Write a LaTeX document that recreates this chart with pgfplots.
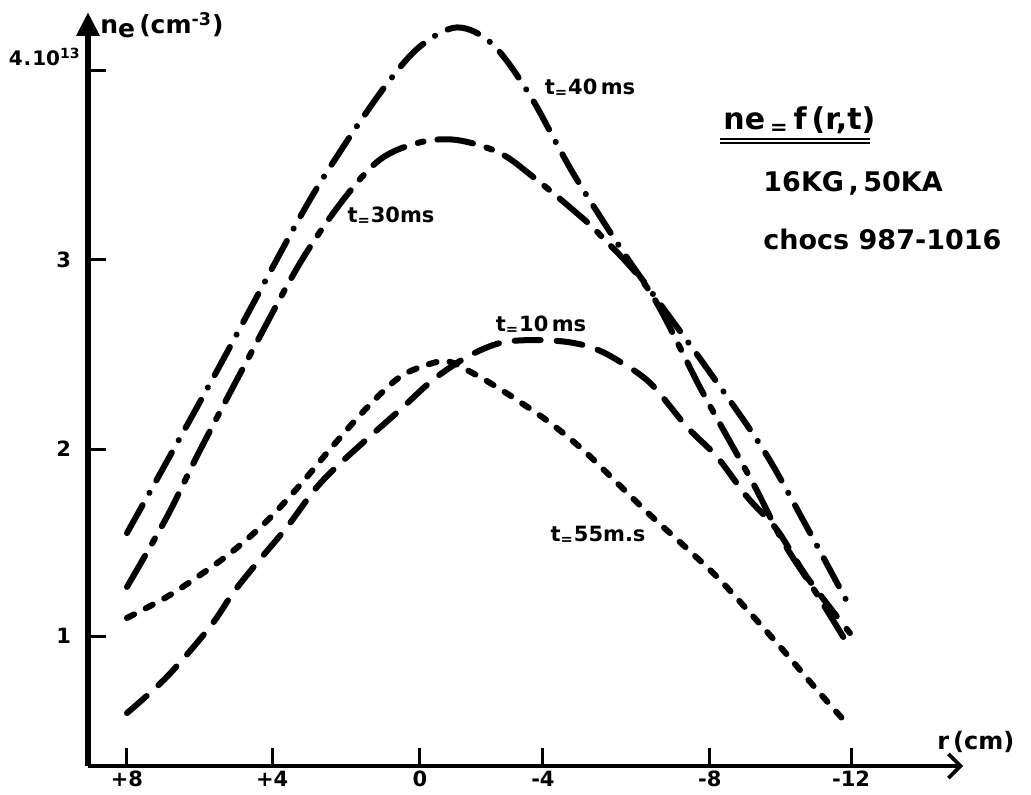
\documentclass[border=0pt]{standalone}
\usepackage{fontspec}
\setmainfont{DejaVu Sans}
\usepackage{pgfplots}
\pgfplotsset{compat=1.18}
\usetikzlibrary{arrows.meta}
\begin{document}
\begin{tikzpicture}[x=1pt,y=1pt]
\path[use as bounding box] (-44,-14.5) rectangle (471.5,383);
\begin{axis}[at={(0,0)}, anchor=south west, scale only axis,
  width=437.5pt, height=377pt,
  xmin=-9.077, xmax=15.094, ymin=0.308, ymax=4.312,
  axis lines=left, clip=false,
  x axis line style={line width=1.8pt, -{Straight Barb[length=6pt,width=12pt,line width=1.8pt]}},
  y axis line style={line width=3.4pt, -{Triangle[length=12pt,width=11pt]}},
  xtick={-8,-3.99,0.09,3.49,8.1,12},
  xticklabels={+8,+4,0,-4,-8,-12},
  ytick={0.998,1.991,2.995,4.0},
  yticklabels={1,2,3,{}},
  major tick length=9pt, tick align=inside,
  tick style={line width=1.5pt, black},
  /pgf/number format/assume math mode=true,
  tick label style={font=\bfseries\fontsize{10.5}{11}\selectfont},
  xticklabel style={yshift=1pt},
  yticklabel style={xshift=-5pt},
]
% t = 40 ms
\addplot[line width=3pt, line cap=round, smooth, tension=0.55,
  dash pattern=on 16pt off 7pt on 0.1pt off 7pt] coordinates {
  (-8,1.545) (-5.62,2.369) (-3.22,3.223) (-2.03,3.595) (-0.82,3.93)
  (0.1,4.13) (1.12,4.23) (2.1,4.14) (3.13,3.87) (4.32,3.457)
  (5.76,3.022) (6.81,2.74) (8.02,2.42) (9.57,1.99) (10.78,1.577) (11.97,1.152)};
% t = 30 ms
\addplot[line width=3pt, line cap=round, smooth, tension=0.55,
  dash pattern=on 18pt off 7pt on 3pt off 7pt] coordinates {
  (-8,1.259) (-6.90,1.630) (-5.98,1.986) (-4.60,2.491) (-3.22,2.979)
  (-2.03,3.314) (-1.0,3.53) (0.1,3.62) (1.12,3.632)
  (2.30,3.563) (3.22,3.436) (4.32,3.261) (5.07,3.128)
  (6.45,2.825) (7.91,2.289) (9.29,1.811) (10.12,1.50) (11.06,1.22) (11.97,0.935)};
% t = 10 ms
\addplot[line width=3pt, line cap=round, smooth, tension=0.55,
  dash pattern=on 13pt off 8pt] coordinates {
  (-8,0.589) (-6.90,0.781) (-5.71,1.046)
  (-5.07,1.227) (-4.41,1.386) (-3.58,1.577) (-2.75,1.790) (-1.92,1.949)
  (-0.46,2.199) (0.45,2.358) (1.39,2.480) (2.30,2.554) (3.22,2.570)
  (4.15,2.560) (4.87,2.528) (5.54,2.464) (6.45,2.342) (7.47,2.108)
  (8.30,1.949) (9.13,1.737) (9.96,1.561) (10.78,1.312) (11.97,1.014)};
% t = 55 ms
\addplot[line width=3pt, line cap=round, smooth, tension=0.55,
  dash pattern=on 4pt off 6.5pt] coordinates {
  (-8,1.094) (-6.90,1.206) (-5.98,1.322) (-5.07,1.450)
  (-4.13,1.610) (-3.22,1.800) (-2.39,1.990) (-1.43,2.199) (-0.46,2.374)
  (0.45,2.448) (0.92,2.454) (1.39,2.411) (2.03,2.342) (2.77,2.252)
  (3.69,2.130) (4.60,1.986) (5.54,1.811) (6.45,1.641) (7.36,1.482)
  (8.30,1.312) (9.21,1.121) (10.12,0.924) (11.06,0.712) (11.97,0.515)};
\end{axis}
\bfseries
\node[anchor=west, font=\bfseries\fontsize{12.5}{14}\selectfont, inner sep=0pt] at (6,370.5)
  {n\raisebox{-0.25ex}{e}\,(cm\textsuperscript{-3})};
\node[anchor=base east, font=\bfseries\fontsize{10}{12}\selectfont, inner sep=0pt] at (-3.5,350)
  {4\kern0.5pt.\kern0.5pt10\textsuperscript{13}};
\node[anchor=base west, font=\bfseries\fontsize{12}{14}\selectfont, inner sep=0pt] at (424.5,8)
  {r\,(cm)};
\node[font=\bfseries\fontsize{10.5}{12}\selectfont, inner sep=0pt] at (251,339)
  {t\textsubscript{=}40\,ms};
\node[font=\bfseries\fontsize{10.5}{12}\selectfont, inner sep=0pt] at (151.5,275)
  {t\textsubscript{=}30ms};
\node[font=\bfseries\fontsize{10.5}{12}\selectfont, inner sep=0pt] at (226.5,220.5)
  {t\textsubscript{=}10\,ms};
\node[font=\bfseries\fontsize{10.5}{12}\selectfont, inner sep=0pt] at (255,115.5)
  {t\textsubscript{=}55m.s};
\node[anchor=base west, font=\bfseries\fontsize{15}{17}\selectfont, inner sep=0pt] at (317.5,318)
  {ne\,\textsubscript{=}\,f\,(r,t)};
\draw[line width=1pt] (316,313.5) -- (391,313.5);
\draw[line width=1pt] (316,311.5) -- (391,311.5);
\node[anchor=base west, font=\bfseries\fontsize{13.5}{16}\selectfont, inner sep=0pt] at (337.5,287)
  {16KG\,,\,50KA};
\node[anchor=base west, font=\bfseries\fontsize{13.5}{16}\selectfont, inner sep=0pt] at (337.5,258)
  {chocs 987-1016};
\end{tikzpicture}
\end{document}
